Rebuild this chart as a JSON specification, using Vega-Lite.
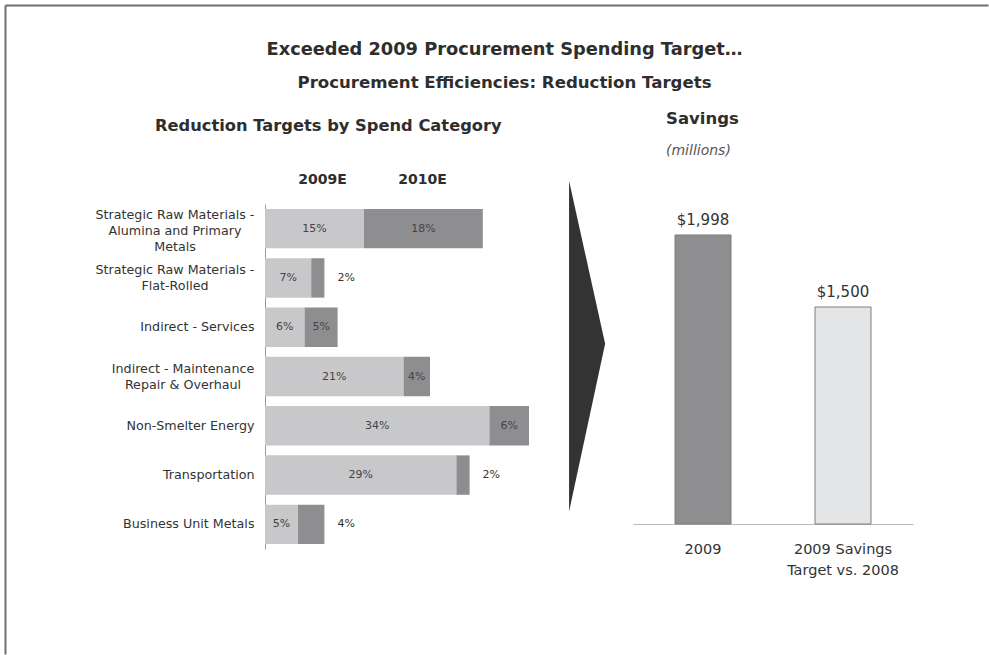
{
  "$schema": "https://vega.github.io/schema/vega-lite/v6.json",
  "background": "white",
  "padding": {"left": 5, "top": 5, "right": 0, "bottom": 0},
  "config": {"view": {"stroke": null}, "font": "DejaVu Sans"},
  "resolve": {"scale": {"color": "independent"}},
  "bounds": "flush",
  "spacing": 24,
  "title": {
    "text": "Exceeded 2009 Procurement Spending Target…",
    "subtitle": "Procurement Efficiencies: Reduction Targets",
    "anchor": "middle",
    "dx": -122,
    "fontSize": 17.8,
    "fontWeight": "bold",
    "color": "#2e2e2e",
    "subtitleFont": "DejaVu Sans",
    "subtitleFontSize": 16.6,
    "subtitleFontWeight": "bold",
    "subtitleColor": "#2e2e2e",
    "subtitlePadding": 17,
    "offset": -87
  },
  "hconcat": [
    {
      "width": 344,
      "height": 345,
      "title": {
        "text": "Reduction Targets by Spend Category",
        "anchor": "start",
        "frame": "group",
        "dx": -110,
        "fontSize": 16.3,
        "fontWeight": "bold",
        "color": "#2e2e2e",
        "offset": -129
      },
      "data": {
        "values": [
          {"category": "Strategic Raw Materials - Alumina and Primary Metals", "year": "2009E", "value": 0.15},
          {"category": "Strategic Raw Materials - Alumina and Primary Metals", "year": "2010E", "value": 0.18},
          {"category": "Strategic Raw Materials - Flat-Rolled", "year": "2009E", "value": 0.07},
          {"category": "Strategic Raw Materials - Flat-Rolled", "year": "2010E", "value": 0.02},
          {"category": "Indirect - Services", "year": "2009E", "value": 0.06},
          {"category": "Indirect - Services", "year": "2010E", "value": 0.05},
          {"category": "Indirect - Maintenance Repair & Overhaul", "year": "2009E", "value": 0.21},
          {"category": "Indirect - Maintenance Repair & Overhaul", "year": "2010E", "value": 0.04},
          {"category": "Non-Smelter Energy", "year": "2009E", "value": 0.34},
          {"category": "Non-Smelter Energy", "year": "2010E", "value": 0.06},
          {"category": "Transportation", "year": "2009E", "value": 0.29},
          {"category": "Transportation", "year": "2010E", "value": 0.02},
          {"category": "Business Unit Metals", "year": "2009E", "value": 0.05},
          {"category": "Business Unit Metals", "year": "2010E", "value": 0.04}
        ]
      },
      "resolve": {
        "scale": {"x": "independent", "y": "independent"},
        "axis": {"x": "independent", "y": "independent"}
      },
      "layer": [
        {
          "encoding": {
            "y": {
              "field": "category",
              "type": "nominal",
              "scale": {
                "domain": [
                  "Strategic Raw Materials - Alumina and Primary Metals",
                  "Strategic Raw Materials - Flat-Rolled",
                  "Indirect - Services",
                  "Indirect - Maintenance Repair & Overhaul",
                  "Non-Smelter Energy",
                  "Transportation",
                  "Business Unit Metals"
                ],
                "paddingInner": 0.2,
                "paddingOuter": 0.1
              },
              "axis": {
                "orient": "left",
                "title": null,
                "ticks": false,
                "domainColor": "#9a9a9a",
                "labelFontSize": 12.7,
                "labelColor": "#333333",
                "labelLineHeight": 16,
                "labelLimit": 400,
                "labelAlign": {
                  "condition": {"test": "datum.value == 'Strategic Raw Materials - Alumina and Primary Metals' || datum.value == 'Strategic Raw Materials - Flat-Rolled' || datum.value == 'Indirect - Maintenance Repair & Overhaul'", "value": "center"},
                  "value": "right"
                },
                "labelPadding": {
                  "condition": [
                    {"test": "datum.value == 'Strategic Raw Materials - Alumina and Primary Metals' || datum.value == 'Strategic Raw Materials - Flat-Rolled'", "value": 90.5},
                    {"test": "datum.value == 'Indirect - Maintenance Repair & Overhaul'", "value": 82.5}
                  ],
                  "value": 11
                },
                "labelOffset": {
                  "condition": [
                    {"test": "datum.value == 'Strategic Raw Materials - Alumina and Primary Metals'", "value": -14},
                    {"test": "datum.value == 'Strategic Raw Materials - Flat-Rolled' || datum.value == 'Indirect - Maintenance Repair & Overhaul'", "value": -8}
                  ],
                  "value": 0
                },
                "labelExpr": "datum.value == 'Strategic Raw Materials - Alumina and Primary Metals' ? ['Strategic Raw Materials -', 'Alumina and Primary', 'Metals'] : datum.value == 'Strategic Raw Materials - Flat-Rolled' ? ['Strategic Raw Materials -', 'Flat-Rolled'] : datum.value == 'Indirect - Maintenance Repair & Overhaul' ? ['Indirect - Maintenance', 'Repair & Overhaul'] : datum.value"
              }
            }
          },
          "layer": [
            {
              "mark": {"type": "bar"},
              "encoding": {
                "x": {
                  "field": "value",
                  "type": "quantitative",
                  "stack": "zero",
                  "scale": {"domain": [0, 0.52121], "nice": false, "zero": true},
                  "axis": {
                    "orient": "top",
                    "values": [0.0864, 0.238],
                    "labelExpr": "datum.value < 0.15 ? '2009E' : '2010E'",
                    "ticks": false,
                    "domain": false,
                    "grid": false,
                    "labelFontWeight": "bold",
                    "labelFontSize": 14,
                    "labelColor": "#2e2e2e",
                    "labelPadding": 18,
                    "labelFlush": false,
                    "title": null
                  }
                },
                "color": {
                  "field": "year",
                  "type": "nominal",
                  "scale": {"domain": ["2009E", "2010E"], "range": ["#c8c8ca", "#8e8e91"]},
                  "legend": null
                }
              }
            },
            {
              "mark": {"type": "text", "fontSize": 11, "color": "#444444"},
              "encoding": {
                "x": {"field": "value", "type": "quantitative", "stack": "zero", "bandPosition": 0.5, "title": null},
                "detail": {"field": "year", "type": "nominal"},
                "order": {"field": "year", "type": "nominal", "sort": "ascending"},
                "text": {
                  "condition": {"test": "datum.year == '2010E' && (datum.category == 'Strategic Raw Materials - Flat-Rolled' || datum.category == 'Transportation' || datum.category == 'Business Unit Metals')", "value": ""},
                  "field": "value",
                  "type": "quantitative",
                  "format": ".0%"
                }
              }
            },
            {
              "mark": {"type": "text", "fontSize": 11, "color": "#333333", "align": "left", "dx": 13},
              "encoding": {
                "x": {"field": "value", "type": "quantitative", "stack": "zero", "bandPosition": 1, "title": null},
                "detail": {"field": "year", "type": "nominal"},
                "order": {"field": "year", "type": "nominal", "sort": "ascending"},
                "text": {
                  "condition": {"test": "datum.year == '2010E' && (datum.category == 'Strategic Raw Materials - Flat-Rolled' || datum.category == 'Transportation' || datum.category == 'Business Unit Metals')", "field": "value", "type": "quantitative", "format": ".0%"},
                  "value": ""
                }
              }
            },
            {
              "data": {"values": [{"category": "Indirect - Maintenance Repair & Overhaul"}]},
              "mark": {
                "type": "point",
                "shape": "M -0.109 -1.183 L 0.109 -0.198 L -0.109 0.817 Z",
                "size": 109561,
                "filled": true,
                "color": "#333333",
                "opacity": 1
              },
              "encoding": {
                "x": {"datum": 0.488, "type": "quantitative"}
              }
            }
          ]
        },
        {
          "data": {"values": [{"frame": "border"}]},
          "mark": {"type": "point", "opacity": 0},
          "encoding": {
            "x": {
              "datum": 0.5,
              "type": "quantitative",
              "scale": {"domain": [0, 1], "range": [-260, 723]},
              "axis": {"orient": "top", "offset": 199, "domainColor": "#6e6e6e", "domainWidth": 2, "ticks": false, "labels": false, "grid": false, "title": null}
            },
            "y": {
              "datum": 0.5,
              "type": "quantitative",
              "scale": {"domain": [0, 1], "range": [-199, 450]},
              "axis": {"orient": "left", "offset": 260, "domainColor": "#6e6e6e", "domainWidth": 2, "ticks": false, "labels": false, "grid": false, "title": null}
            }
          }
        }
      ]
    },
    {
      "width": 280,
      "height": 320,
      "title": {
        "text": "Savings",
        "subtitle": "(millions)",
        "anchor": "start",
        "frame": "group",
        "dx": 33,
        "fontSize": 16.5,
        "fontWeight": "bold",
        "color": "#2e2e2e",
        "subtitleFont": "DejaVu Sans",
        "subtitleFontSize": 14,
        "subtitleFontStyle": "italic",
        "subtitleColor": "#555555",
        "subtitlePadding": 17,
        "offset": 46
      },
      "data": {
        "values": [
          {"label": "2009", "savings": 1998},
          {"label": "2009 Savings Target vs. 2008", "savings": 1500}
        ]
      },
      "encoding": {
        "x": {
          "field": "label",
          "type": "nominal",
          "sort": null,
          "scale": {"paddingInner": 0.6, "paddingOuter": 0.3},
          "axis": {
            "title": null,
            "labelAngle": 0,
            "ticks": false,
            "domainColor": "#bbbbbb",
            "labelFontSize": 14.5,
            "labelColor": "#333333",
            "labelPadding": 18,
            "labelLineHeight": 21,
            "labelExpr": "datum.value == '2009 Savings Target vs. 2008' ? ['2009 Savings', 'Target vs. 2008'] : datum.value"
          }
        },
        "y": {
          "field": "savings",
          "type": "quantitative",
          "scale": {"domain": [0, 2212], "nice": false},
          "axis": null
        }
      },
      "layer": [
        {
          "mark": {"type": "bar", "stroke": "#7f7f7f", "strokeWidth": 1},
          "encoding": {
            "color": {
              "field": "label",
              "type": "nominal",
              "scale": {"domain": ["2009", "2009 Savings Target vs. 2008"], "range": ["#8e8e90", "#e4e5e7"]},
              "legend": null
            }
          }
        },
        {
          "mark": {"type": "text", "baseline": "alphabetic", "dy": -10, "fontSize": 15, "color": "#333333"},
          "encoding": {
            "text": {"field": "savings", "type": "quantitative", "format": "$,d"}
          }
        }
      ]
    }
  ]
}
